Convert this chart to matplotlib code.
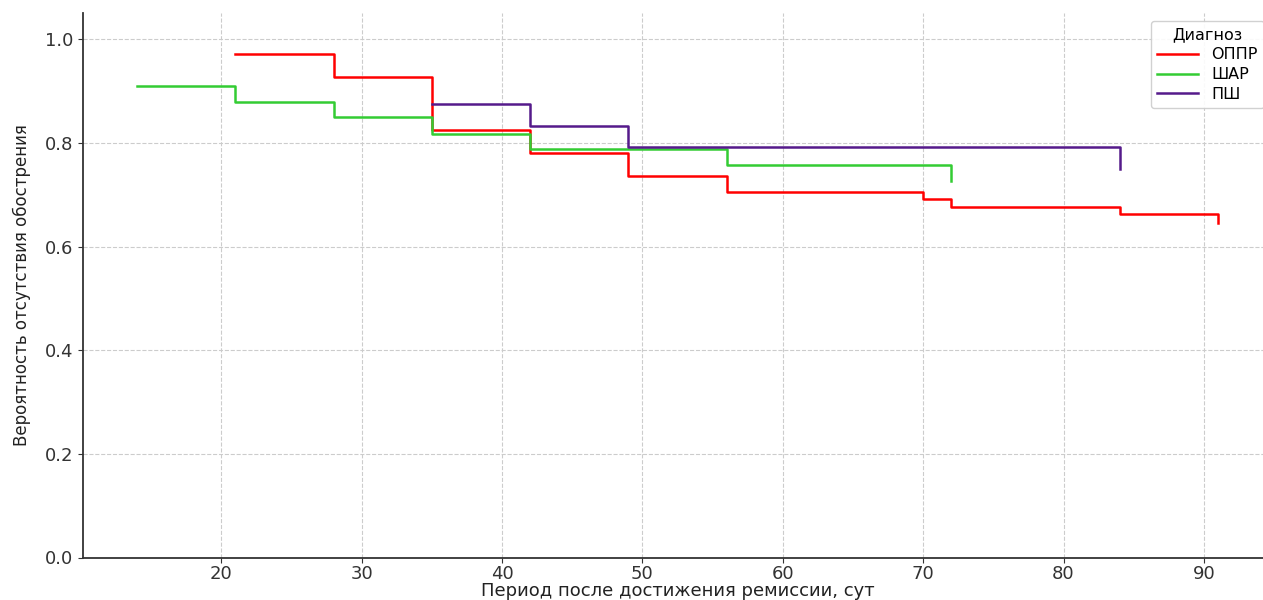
import matplotlib
matplotlib.use("Agg")
import matplotlib.pyplot as plt

# Kaplan-Meier style curves
oppr_t = [21, 28, 35, 42, 49, 56, 70, 72, 84, 91]
oppr_s = [0.971, 0.927, 0.824, 0.780, 0.736, 0.706, 0.691, 0.676, 0.662, 0.646]

shar_t = [14, 21, 28, 35, 42, 56, 72]
shar_s = [0.909, 0.879, 0.849, 0.818, 0.788, 0.758, 0.727]

psh_t = [35, 42, 49, 84]
psh_s = [0.875, 0.833, 0.792, 0.750]

labels = ["ОППР", "ШАР", "ПШ"]
colors = ["#ff0000", "#33cc33", "#551a8b"]

plt.rcParams['font.family'] = ['DejaVu Sans']
fig = plt.figure(figsize=(12.63, 6.0), dpi=100)
ax = fig.add_axes([83 / 1263, 1 - 557.5 / 600, (1272 - 83) / 1263, (557.5 - 13.3) / 600])

for t, s, lab, c in zip([oppr_t, shar_t, psh_t], [oppr_s, shar_s, psh_s], labels, colors):
    ax.step(t, s, where='post', color=c, linewidth=1.8, label=lab)

ax.set_xlim(10.15, 94.85)
ax.set_ylim(0, 1.05)
ax.set_yticks([0.0, 0.2, 0.4, 0.6, 0.8, 1.0])

ax.grid(True, linestyle='--', color='#cccccc', linewidth=0.8)
ax.set_axisbelow(True)
for side in ['top', 'right']:
    ax.spines[side].set_visible(False)
for side in ['left', 'bottom']:
    ax.spines[side].set_color('#333333')
    ax.spines[side].set_linewidth(1.3)
ax.tick_params(colors='#333333', labelsize=13)
ax.tick_params(axis='x', pad=2)

ax.set_xlabel("Период после достижения ремиссии, сут", fontsize=13, color='#222222', labelpad=-1)
ax.set_ylabel("Вероятность отсутствия обострения", fontsize=12, color='#222222', labelpad=10)

leg = ax.legend(title="Диагноз", loc='upper right', fontsize=11.5, title_fontsize=11.5,
                framealpha=0.9, handlelength=2.6, labelspacing=0.3)
leg.get_frame().set_edgecolor('#cccccc')

fig.savefig("out.png", dpi=100)
